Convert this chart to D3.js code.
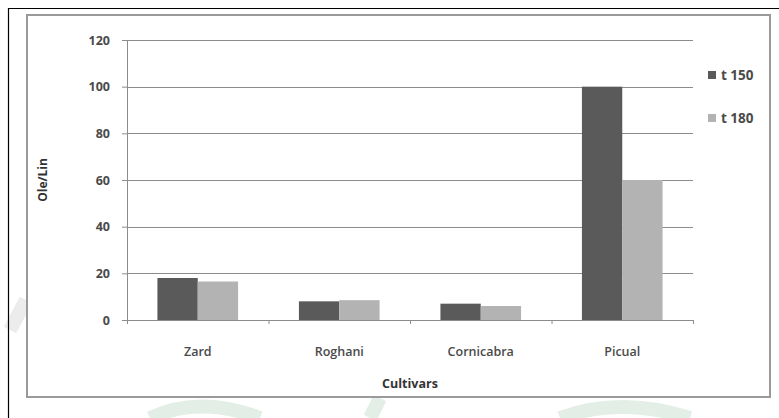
<!DOCTYPE html>
<html>
<head>
<meta charset="utf-8">
<script src="https://cdn.jsdelivr.net/npm/d3@7"></script>
<style>
  body { margin: 0; background: #fff; }
  svg { display: block; }
  text { font-family: "Open Sans", "Liberation Sans", sans-serif; }
</style>
</head>
<body>
<div id="chart"></div>
<script>
// Chart data
var cultivars = ["Zard", "Roghani", "Cornicabra", "Picual"];
var seriesNames = ["t 150", "t 180"];
var t150 = [18, 8, 7, 100];
var t180 = [16.5, 8.5, 6, 60];
var yTicks = [0, 20, 40, 60, 80, 100, 120];

var colors = {"t 150": "#5a5a5a", "t 180": "#b3b3b3"};

var W = 779, H = 418;
var margin = {top: 40, right: 86, bottom: 98, left: 127},
    width = W - margin.left - margin.right,
    height = H - margin.top - margin.bottom;

var svg = d3.select("#chart").append("svg")
    .attr("width", W)
    .attr("height", H);

// faint watermark shapes outside the frame
var wm = svg.append("g").attr("fill", "none").attr("stroke", "#e3efe6").attr("stroke-width", 14);
wm.append("path").attr("d", "M150,418 Q200,395 260,418");
wm.append("path").attr("d", "M370,418 L380,398");
wm.append("path").attr("d", "M560,418 Q620,396 690,418");
wm.append("path").attr("d", "M10,330 L26,300").attr("stroke", "#ececec");

// outer black lines
svg.append("line").attr("x1", 8.5).attr("x2", 8.5).attr("y1", 8).attr("y2", H)
    .attr("stroke", "#000").attr("stroke-width", 1.2);
svg.append("line").attr("x1", 8).attr("x2", W).attr("y1", 8.5).attr("y2", 8.5)
    .attr("stroke", "#000").attr("stroke-width", 1.2);

// chart frame
svg.append("rect")
    .attr("x", 27).attr("y", 15)
    .attr("width", 743).attr("height", 382)
    .attr("fill", "#fff")
    .attr("stroke", "#9a9a9a")
    .attr("stroke-width", 2);

var g = svg.append("g")
    .attr("transform", "translate(" + margin.left + "," + margin.top + ")");

var x0 = d3.scaleBand()
    .domain(cultivars)
    .range([0, width])
    .paddingInner(0.43)
    .paddingOuter(0.215);

var x1 = d3.scaleBand()
    .domain(seriesNames)
    .range([0, x0.bandwidth()]);

var y = d3.scaleLinear()
    .domain([0, 120])
    .range([height, 0]);

// gridlines
g.append("g")
    .selectAll("line")
    .data(yTicks)
    .enter().append("line")
      .attr("x1", 0).attr("x2", width)
      .attr("y1", function(d) { return Math.round(y(d)) + 0.5; })
      .attr("y2", function(d) { return Math.round(y(d)) + 0.5; })
      .attr("stroke", "#8c8c8c")
      .attr("stroke-width", 1);

// bars
var rows = cultivars.map(function(c, i) {
  return {cultivar: c, values: [
    {key: "t 150", value: t150[i]},
    {key: "t 180", value: t180[i]}
  ]};
});

g.selectAll(".grp")
    .data(rows)
  .enter().append("g")
    .attr("class", "grp")
    .attr("transform", function(d) { return "translate(" + x0(d.cultivar) + ",0)"; })
  .selectAll("rect")
    .data(function(d) { return d.values; })
  .enter().append("rect")
    .attr("x", function(d) { return x1(d.key); })
    .attr("width", x1.bandwidth())
    .attr("y", function(d) { return y(d.value); })
    .attr("height", function(d) { return height - y(d.value); })
    .attr("fill", function(d) { return colors[d.key]; });

// y axis
var yAxis = g.append("g")
    .call(d3.axisLeft(y).tickValues(yTicks).tickSize(5).tickPadding(12));
yAxis.select(".domain").attr("stroke", "#8c8c8c");
yAxis.selectAll(".tick line").attr("stroke", "#8c8c8c");
yAxis.selectAll("text")
    .attr("fill", "#4a4a4a")
    .style("font-size", "12.5px")
    .style("font-weight", "700");

// x axis
var xAxis = g.append("g")
    .attr("transform", "translate(0," + height + ")")
    .call(d3.axisBottom(d3.scaleLinear().domain([0, 4]).range([0, width]))
      .ticks(4).tickSize(4).tickFormat(""));
xAxis.select(".domain").attr("stroke", "#8c8c8c");
xAxis.selectAll(".tick line").attr("stroke", "#8c8c8c");

g.selectAll(".xlab")
    .data(cultivars)
  .enter().append("text")
    .attr("class", "xlab")
    .attr("x", function(d) { return x0(d) + x0.bandwidth() / 2; })
    .attr("y", height + 36)
    .attr("text-anchor", "middle")
    .attr("fill", "#4a4a4a")
    .style("font-size", "12.5px")
    .style("font-weight", "600")
    .text(function(d) { return d; });

// axis titles
g.append("text")
    .attr("transform", "rotate(-90)")
    .attr("x", -140)
    .attr("y", -80)
    .attr("text-anchor", "middle")
    .attr("fill", "#333")
    .style("font-size", "12px")
    .style("font-weight", "700")
    .text("Ole/Lin");

g.append("text")
    .attr("x", width / 2)
    .attr("y", height + 68)
    .attr("text-anchor", "middle")
    .attr("fill", "#333")
    .style("font-size", "12.5px")
    .style("font-weight", "700")
    .text("Cultivars");

// legend
var legend = svg.append("g")
    .attr("transform", "translate(708,71)");

var li = legend.selectAll(".li")
    .data(seriesNames)
  .enter().append("g")
    .attr("class", "li")
    .attr("transform", function(d, i) { return "translate(0," + (i * 43) + ")"; });

li.append("rect")
    .attr("width", 8).attr("height", 8)
    .attr("fill", function(d) { return colors[d]; });

li.append("text")
    .attr("x", 13)
    .attr("y", 8.5)
    .attr("fill", "#4a4a4a")
    .style("font-size", "13.5px")
    .style("font-weight", "700")
    .text(function(d) { return d; });
</script>
</body>
</html>
